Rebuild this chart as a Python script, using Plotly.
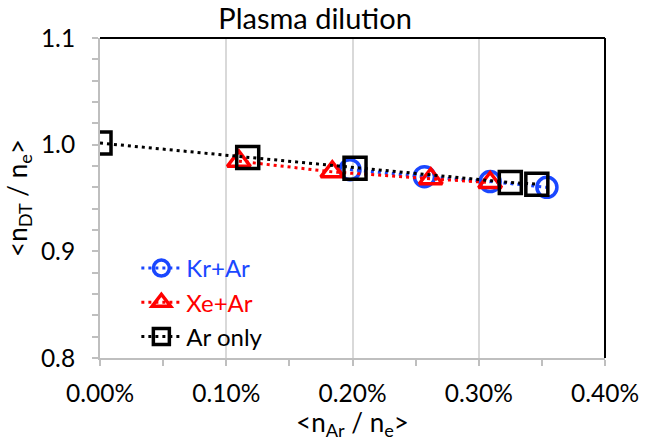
import plotly.graph_objects as go

# Data
kr_x = [0.00198, 0.00257, 0.00309, 0.00354]
kr_y = [0.9766, 0.9700, 0.9654, 0.9600]
xe_x = [0.00110, 0.00184, 0.00262, 0.00309]
xe_y = [0.9845, 0.9745, 0.9680, 0.9645]
ar_x = [0.0, 0.00117, 0.00202, 0.00325, 0.00346]
ar_y = [1.0015, 0.9880, 0.9780, 0.9645, 0.9630]

x_ticks = [0.0, 0.001, 0.002, 0.003, 0.004]
x_labels = ["0.00%", "0.10%", "0.20%", "0.30%", "0.40%"]
y_ticks = [0.8, 0.9, 1.0, 1.1]
y_labels = ["0.8", "0.9", "1.0", "1.1"]

BLUE = "#1A47FF"
RED = "#FF0000"
BLACK = "#000000"
FONT = "Lato"
DOT = "3px,4px"

fig = go.Figure()
fig.add_trace(go.Scatter(
    x=kr_x, y=kr_y, mode="lines+markers",
    name=f'<span style="color:{BLUE}">Kr+Ar</span>',
    line=dict(color=BLUE, dash=DOT, width=3),
    marker=dict(symbol="circle-open", size=20, color=BLUE, line=dict(width=3.5, color=BLUE)),
))
fig.add_trace(go.Scatter(
    x=xe_x, y=xe_y, mode="lines+markers",
    name=f'<span style="color:{RED}">Xe+Ar</span>',
    line=dict(color=RED, dash=DOT, width=3),
    marker=dict(symbol="triangle-up-open", size=20, color=RED, line=dict(width=3.5, color=RED)),
))
fig.add_trace(go.Scatter(
    x=ar_x, y=ar_y, mode="lines+markers",
    name=f'<span style="color:{BLACK}">Ar only</span>',
    line=dict(color=BLACK, dash=DOT, width=3),
    marker=dict(symbol="square-open", size=22, color=BLACK, line=dict(width=3.5, color=BLACK)),
))

fig.update_layout(
    width=651, height=441,
    margin=dict(l=100, r=36, t=38, b=83),
    paper_bgcolor="white", plot_bgcolor="white",
    font=dict(family=FONT, size=24, color="black"),
    title=dict(text="Plasma dilution", x=0.484, xanchor="center", y=0.958, yanchor="middle",
               font=dict(family=FONT, size=29, color="black")),
    showlegend=True,
    legend=dict(x=0.072, y=0.35, xanchor="left", yanchor="top", bgcolor="rgba(0,0,0,0)",
                font=dict(family=FONT, size=24), tracegroupgap=0, itemwidth=40),
    xaxis=dict(
        range=[0, 0.004], tickvals=x_ticks, ticktext=x_labels,
        showgrid=True, gridcolor="#D9D9D9", gridwidth=2,
        showline=True, linecolor="#BFBFBF", linewidth=2,
        ticks="outside", ticklen=6, tickcolor="#BFBFBF", tickwidth=2,
        minor=dict(dtick=0.0005, ticks="outside", ticklen=6, tickcolor="#BFBFBF", tickwidth=2, showgrid=False),
        zeroline=False, ticklabelstandoff=7,
        tickfont=dict(size=24.5),
        title=dict(text="&lt;n<sub>Ar</sub> / n<sub>e</sub>&gt;", font=dict(size=26), standoff=3),
    ),
    yaxis=dict(
        range=[0.8, 1.1], tickvals=y_ticks, ticktext=y_labels,
        showgrid=False,
        showline=True, linecolor="#BFBFBF", linewidth=2,
        ticks="outside", ticklen=6, tickcolor="#BFBFBF", tickwidth=2,
        minor=dict(dtick=0.02, ticks="outside", ticklen=6, tickcolor="#BFBFBF", tickwidth=2, showgrid=False),
        zeroline=False, ticklabelstandoff=12,
        tickfont=dict(size=24.5),
        title=dict(text="&lt;n<sub>DT</sub> / n<sub>e</sub>&gt;", font=dict(size=26), standoff=6),
    ),
    shapes=[
        dict(type="line", xref="paper", yref="paper", x0=0, x1=1, y0=1, y1=1,
             line=dict(color="black", width=2)),
        dict(type="line", xref="paper", yref="paper", x0=1, x1=1, y0=0, y1=1,
             line=dict(color="black", width=2)),
    ],
)

fig.write_html("out.html")
